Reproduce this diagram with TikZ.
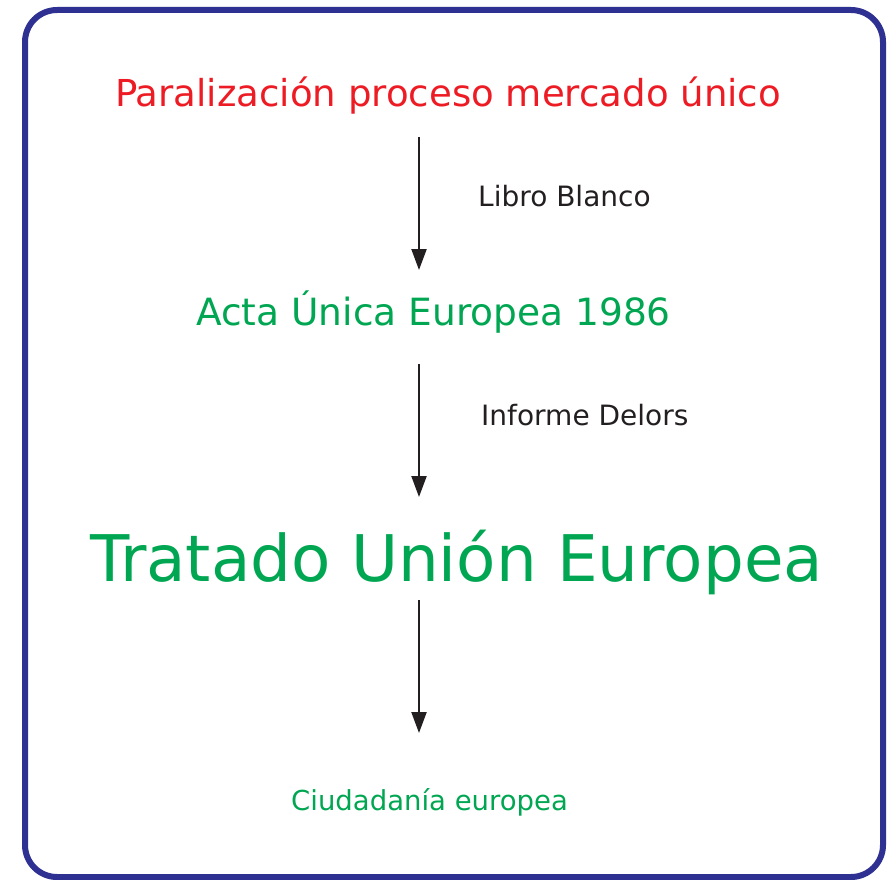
\documentclass[tikz,border=0pt]{standalone}
\usepackage{fontspec}
\setmainfont{DejaVu Sans}
\usetikzlibrary{arrows.meta}
\definecolor{framecol}{HTML}{2E3192}
\definecolor{titlered}{HTML}{ED1C24}
\definecolor{stepgreen}{HTML}{00A651}
\definecolor{inkblack}{HTML}{231F20}
\tikzset{
  label text/.style={anchor=base west, inner sep=0pt, font=\fontsize{#1}{#1}\selectfont},
  flow/.style={-{Triangle[width=15pt,length=21pt]}, line width=2.2pt, draw=inkblack},
}
\begin{document}
\begin{tikzpicture}[x=1pt, y=-1pt]
			\useasboundingbox (0,0) rectangle (894,880);
			\draw[framecol, line width=6pt, rounded corners=32pt] (25,10) rectangle (883,877);
			% texts
			\node[label text=37.1, text=titlered] (paral) at (115,107) {Paralización proceso mercado único};
			\node[label text=28, text=inkblack] (libro) at (478,206) {Libro Blanco};
			\node[label text=37.5, text=stepgreen] (acta) at (196,325) {Acta Única Europea 1986};
			\node[label text=28, text=inkblack] (delors) at (481,425) {Informe Delors};
			\node[label text=64.3, text=stepgreen] (tratado) at (90,581) {Tratado Unión Europea};
			\node[label text=27.5, text=stepgreen] (ciudad) at (291,810) {Ciudadanía europea};
			% arrows
			\coordinate (a1) at (419,137); \coordinate (b1) at (419,270);
			\coordinate (a2) at (419,364); \coordinate (b2) at (419,497);
			\coordinate (a3) at (419,600); \coordinate (b3) at (419,733);
			\draw[flow] (a1) -- (b1);
			\draw[flow] (a2) -- (b2);
			\draw[flow] (a3) -- (b3);
		\end{tikzpicture}
\end{document}
